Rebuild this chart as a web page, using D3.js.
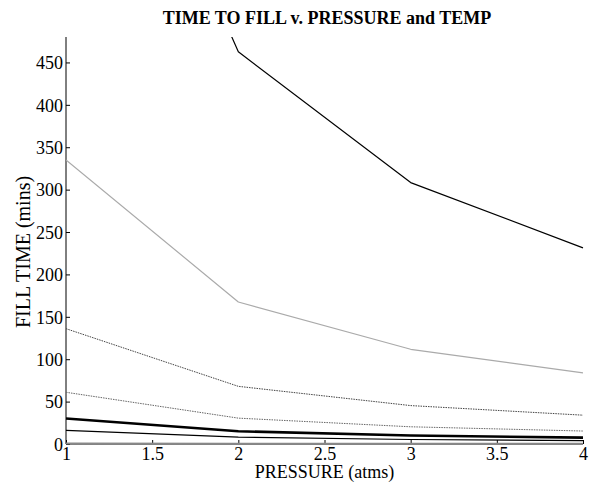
<!DOCTYPE html>
<html>
<head>
<meta charset="utf-8">
<script src="https://cdn.jsdelivr.net/npm/d3@7"></script>
<style>
body { margin: 0; background: #fff; }
text { font-family: "Liberation Serif", "Times New Roman", serif; fill: #000; }
</style>
</head>
<body>
<script>

// data
var pressure = [1, 2, 3, 4];
var fill1 = [925, 462.5, 308.3, 231.3];
var fill2 = [335, 167.5, 111.7, 83.8];
var fill3 = [136, 68, 45.3, 34];
var fill4 = [61, 30.5, 20.3, 15.3];
var fill5 = [30, 15, 10, 7.5];
var fill6 = [16, 8, 5.3, 4];
var fill7 = [0.6, 0.3, 0.2, 0.15];
var xTicks = [1, 1.5, 2, 2.5, 3, 3.5, 4];
var yTicks = [0, 50, 100, 150, 200, 250, 300, 350, 400, 450];

var series = [
	{vals: fill1, color: "#000", width: 1.2, dash: null},
	{vals: fill2, color: "#aaa", width: 1.2, dash: null},
	{vals: fill3, color: "#444", width: 1, dash: "1.5,1"},
	{vals: fill4, color: "#666", width: 1, dash: "1.5,1"},
	{vals: fill5, color: "#000", width: 2.6, dash: null},
	{vals: fill6, color: "#000", width: 1.2, dash: null},
	{vals: fill7, color: "#888", width: 2, dash: null}
];

//Width and height
var w = 590;
var h = 482;
var mLeft = 66, mRight = 583, mTop = 37, mBottom = 444;

var x = d3.scaleLinear().domain([1, 4]).range([mLeft, mRight]);
var y = d3.scaleLinear().domain([0, 480]).range([mBottom, mTop]);

var svg = d3.select("body")
	.append("svg")
	.attr("width", w)
	.attr("height", h);

svg.append("defs").append("clipPath")
	.attr("id", "clip")
	.append("rect")
	.attr("x", mLeft)
	.attr("y", mTop)
	.attr("width", mRight - mLeft + 2)
	.attr("height", mBottom - mTop + 2);

// axes first, ticks inside
var xAxis = d3.axisBottom(x).tickValues(xTicks).tickSizeInner(-4).tickSizeOuter(0).tickPadding(3)
	.tickFormat(d3.format("~g"));
var yAxis = d3.axisLeft(y).tickValues(yTicks).tickSizeInner(-4).tickSizeOuter(0).tickPadding(3);

var gx = svg.append("g")
	.attr("transform", "translate(0," + mBottom + ")")
	.call(xAxis)
	.attr("font-family", "Liberation Serif")
	.attr("font-size", 18);
var gy = svg.append("g")
	.attr("transform", "translate(" + mLeft + ",0)")
	.call(yAxis)
	.attr("font-family", "Liberation Serif")
	.attr("font-size", 18);

gy.selectAll("text").attr("dy", "0.35em");
gx.select(".domain").attr("d", "M" + mLeft + ",0H" + mRight).style("stroke", "#000");
gy.select(".domain").attr("d", "M0," + mBottom + "V" + mTop).style("stroke", "#000");
gx.selectAll(".tick line").style("stroke", "#000");
gy.selectAll(".tick line").style("stroke", "#000");

var line = d3.line()
	.x(function (d, i) { return x(pressure[i]); })
	.y(function (d) { return y(d); });

svg.append("g")
	.attr("clip-path", "url(#clip)")
	.selectAll("path")
	.data(series)
	.enter()
	.append("path")
	.attr("d", function (d) { return line(d.vals); })
	.style("fill", "none")
	.style("stroke", function (d) { return d.color; })
	.style("stroke-width", function (d) { return d.width; })
	.style("stroke-dasharray", function (d) { return d.dash; })
	.style("stroke-linejoin", "round");

svg.append("text")
	.attr("x", (mLeft + mRight) / 2)
	.attr("y", 478)
	.attr("text-anchor", "middle")
	.style("font-size", "18px")
	.text("PRESSURE (atms)");

svg.append("text")
	.attr("transform", "translate(30," + 252 + ") rotate(-90)")
	.attr("text-anchor", "middle")
	.style("font-size", "20px")
	.text("FILL TIME (mins)");

svg.append("text")
	.attr("x", 327)
	.attr("y", 24)
	.attr("text-anchor", "middle")
	.style("font-size", "18px")
	.style("font-weight", "bold")
	.text("TIME TO FILL v. PRESSURE and TEMP");

</script>
</body>
</html>
